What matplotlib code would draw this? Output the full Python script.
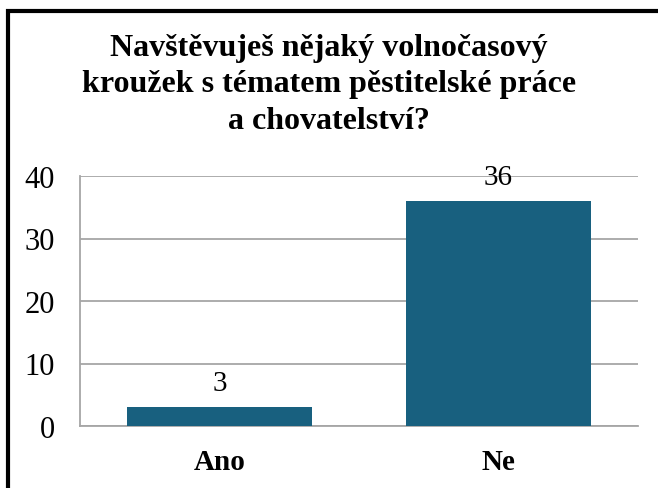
import matplotlib.pyplot as plt
from matplotlib.patches import Rectangle

# data
kategorie = ["Ano", "Ne"]
hodnoty = [3, 36]
y_ticks = [0, 10, 20, 30, 40]
titulek = "Navštěvuješ nějaký volnočasový\nkroužek s tématem pěstitelské práce\na chovatelství?"

barva = "#18607f"
seda = "#a6a6a6"

plt.rcParams['font.family'] = ['Liberation Serif', 'DejaVu Serif']

fig = plt.figure(figsize=(6.58, 4.89), dpi=100)
ax = fig.add_axes([80 / 658, 62 / 489, 558 / 658, 250 / 489])

x = list(range(len(kategorie)))
sloupce = ax.bar(x, hodnoty, width=0.663, color=barva, zorder=3)

for s, h in zip(sloupce, hodnoty):
    ax.annotate(str(h), (s.get_x() + s.get_width() / 2, h),
                xytext=(0, 8), textcoords="offset points",
                ha="center", va="bottom", fontsize=21, zorder=4)

ax.set_xlim(-0.5, 1.5)
ax.set_ylim(0, 40)
ax.set_yticks(y_ticks)
ax.set_xticks(x)
ax.set_xticklabels(kategorie, fontsize=21, fontweight="bold")
ax.tick_params(axis="y", length=0, labelsize=22, pad=18)
ax.tick_params(axis="x", length=0, pad=16)
ax.grid(axis="y", color=seda, linewidth=1.3, zorder=0)
for strana in ["top", "right"]:
    ax.spines[strana].set_visible(False)
for strana in ["left", "bottom"]:
    ax.spines[strana].set_color(seda)
    ax.spines[strana].set_linewidth(1.3)

fig.text(0.5, 1 - 85 / 489, titulek, ha="center", va="center",
         fontsize=23, fontweight="bold", linespacing=1.36)

# ramecek
fig.patches.append(Rectangle((8 / 658, -0.1), 1.2, 1 - 12 / 489 + 0.1,
                             transform=fig.transFigure, fill=False,
                             edgecolor="black", linewidth=3))

fig.savefig("out.png", dpi=100)
